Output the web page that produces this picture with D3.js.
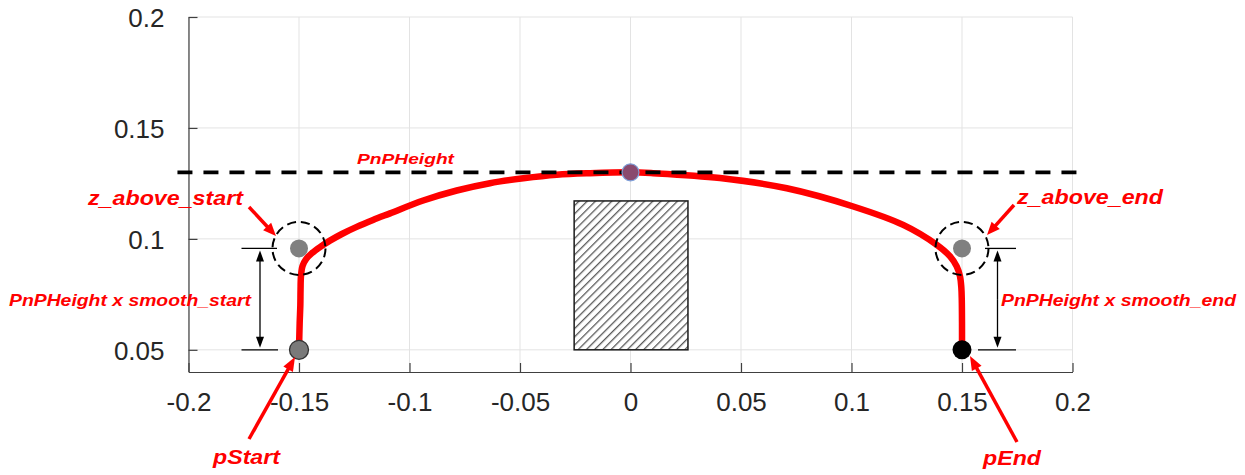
<!DOCTYPE html>
<html>
<head>
<meta charset="utf-8">
<script src="https://cdn.jsdelivr.net/npm/d3@7"></script>
<style>
  html, body { margin: 0; padding: 0; background: #fff; }
  svg { display: block; }
  text { font-family: "Liberation Sans", Arial, sans-serif; }
</style>
</head>
<body>
<svg id="chart" width="1245" height="475"></svg>
<script>
// ---------- data ----------
const xTicks = [-0.2, -0.15, -0.1, -0.05, 0, 0.05, 0.1, 0.15, 0.2];
const xTickLabels = ["-0.2", "-0.15", "-0.1", "-0.05", "0", "0.05", "0.1", "0.15", "0.2"];
const yTicks = [0.05, 0.1, 0.15, 0.2];
const yTickLabels = ["0.05", "0.1", "0.15", "0.2"];

// trajectory (red curve)
const pathX = [-0.15, -0.1497, -0.1494, -0.1493, -0.1491, -0.1484, -0.1468, -0.1441, -0.1405, -0.1360, -0.1306, -0.1239, -0.1165, -0.1088, -0.0938, -0.0786, -0.0636, -0.0485, -0.0334, -0.0183, 0, 0.0102, 0.0405, 0.0707, 0.1008, 0.1234, 0.1386, 0.1446, 0.1476, 0.1491, 0.1497, 0.1499, 0.15, 0.15];
const pathY = [0.05, 0.062, 0.0700, 0.0770, 0.0833, 0.0878, 0.0909, 0.0936, 0.0963, 0.0992, 0.1022, 0.1054, 0.1085, 0.1115, 0.1173, 0.1218, 0.1251, 0.1273, 0.1289, 0.1296, 0.1300, 0.1296, 0.1274, 0.1228, 0.1146, 0.1063, 0.0973, 0.0921, 0.0876, 0.0831, 0.0780, 0.0725, 0.062, 0.05];

// key points
const pStart = [-0.15, 0.05];
const pEnd = [0.15, 0.05];
const zAboveStart = [-0.15, 0.0957];
const zAboveEnd = [0.15, 0.0957];
const peakPoint = [0, 0.130];

// PnPHeight dashed line
const pnpHeight = 0.130;
const pnpLineX = [-0.205, 0.206];

// obstacle box
const obstacleX = [-0.0255, 0.026];
const obstacleY = [0.05, 0.1171];

// ---------- layout ----------
const svg = d3.select("#chart");
const x = d3.scaleLinear().domain([-0.2, 0.2]).range([188.5, 1072.5]);
const y = d3.scaleLinear().domain([0.04, 0.2]).range([372, 17]);

const defs = svg.append("defs");
const pat = defs.append("pattern")
  .attr("id", "hatch").attr("patternUnits", "userSpaceOnUse")
  .attr("width", 5.8).attr("height", 5.8)
  .attr("patternTransform", "rotate(45)");
pat.append("rect").attr("width", 5.8).attr("height", 5.8).attr("fill", "#fff");
pat.append("line").attr("x1", 0).attr("y1", 0).attr("x2", 0).attr("y2", 5.8)
  .attr("stroke", "#595959").attr("stroke-width", 2.6);

// grid
const grid = svg.append("g");
grid.selectAll("line.gx").data(xTicks).join("line")
  .attr("x1", d => x(d)).attr("x2", d => x(d))
  .attr("y1", y(0.04)).attr("y2", y(0.2))
  .attr("stroke", "#e3e3e3").attr("stroke-width", 1);
grid.selectAll("line.gy").data(yTicks).join("line")
  .attr("class", "gy")
  .attr("x1", x(-0.2)).attr("x2", x(0.2))
  .attr("y1", d => y(d)).attr("y2", d => y(d))
  .attr("stroke", "#e3e3e3").attr("stroke-width", 1);

// axes (MATLAB style: inward ticks, box off)
const xAxis = d3.axisBottom(x).tickValues(xTicks).tickFormat((d, i) => xTickLabels[i])
  .tickSizeInner(-9).tickSizeOuter(0).tickPadding(21);
const yAxis = d3.axisLeft(y).tickValues(yTicks).tickFormat((d, i) => yTickLabels[i])
  .tickSizeInner(-9).tickSizeOuter(0).tickPadding(24);

const gx = svg.append("g").attr("transform", `translate(0,${y(0.04)})`).call(xAxis);
const gy = svg.append("g").attr("transform", `translate(${x(-0.2)},0)`).call(yAxis);
[gx, gy].forEach(g => {
  g.select(".domain").attr("stroke", "#404040").attr("stroke-width", 1.2);
  g.selectAll(".tick line").attr("stroke", "#404040").attr("stroke-width", 1.2);
  g.selectAll(".tick text").attr("fill", "#262626")
    .style("font-family", "'Liberation Sans', Arial, sans-serif").style("font-size", "26px");
});
gy.selectAll(".tick text").attr("dy", "0.36em");

// obstacle
svg.append("rect")
  .attr("x", x(obstacleX[0])).attr("y", y(obstacleY[1]))
  .attr("width", x(obstacleX[1]) - x(obstacleX[0]))
  .attr("height", y(obstacleY[0]) - y(obstacleY[1]))
  .attr("fill", "url(#hatch)").attr("stroke", "#1a1a1a").attr("stroke-width", 1.5);

// trajectory
const pts = pathX.map((v, i) => [v, pathY[i]]);
svg.append("path").datum(pts)
  .attr("d", d3.line().x(d => x(d[0])).y(d => y(d[1])).curve(d3.curveCatmullRom.alpha(0.5)))
  .attr("fill", "none").attr("stroke", "#ff0000").attr("stroke-width", 6.5)
  .attr("stroke-linejoin", "round");

// PnPHeight dashed line
svg.append("line")
  .attr("x1", x(pnpLineX[0])).attr("x2", x(pnpLineX[1]))
  .attr("y1", y(pnpHeight)).attr("y2", y(pnpHeight))
  .attr("stroke", "#000").attr("stroke-width", 3.8).attr("stroke-dasharray", "15,11");

// points
svg.append("circle").attr("cx", x(zAboveStart[0])).attr("cy", y(zAboveStart[1])).attr("r", 9).attr("fill", "#808080");
svg.append("circle").attr("cx", x(zAboveEnd[0])).attr("cy", y(zAboveEnd[1])).attr("r", 9).attr("fill", "#808080");
svg.append("circle").attr("cx", x(pStart[0])).attr("cy", y(pStart[1])).attr("r", 9.5)
  .attr("fill", "#7a7a7a").attr("stroke", "#333").attr("stroke-width", 1.3);
svg.append("circle").attr("cx", x(pEnd[0])).attr("cy", y(pEnd[1])).attr("r", 9.5).attr("fill", "#000");
svg.append("circle").attr("cx", x(peakPoint[0])).attr("cy", y(peakPoint[1])).attr("r", 8.5)
  .attr("fill", "#8a4a6e").attr("stroke", "#7f9fd8").attr("stroke-width", 1.2);

// dashed circles around z_above points
[zAboveStart, zAboveEnd].forEach(p => {
  svg.append("circle").attr("cx", x(p[0])).attr("cy", y(p[1])).attr("r", 26.5)
    .attr("fill", "none").attr("stroke", "#000").attr("stroke-width", 2)
    .attr("stroke-dasharray", "9,5");
});

// ---------- annotations ----------
function arrow(x1, y1, x2, y2, color, width, headLen, headW) {
  const dx = x2 - x1, dy = y2 - y1, L = Math.hypot(dx, dy);
  const ux = dx / L, uy = dy / L;
  const bx = x2 - ux * headLen, by = y2 - uy * headLen;
  svg.append("line").attr("x1", x1).attr("y1", y1).attr("x2", bx + ux * 1).attr("y2", by + uy * 1)
    .attr("stroke", color).attr("stroke-width", width);
  const px = -uy * headW / 2, py = ux * headW / 2;
  svg.append("path")
    .attr("d", `M${x2},${y2}L${bx + px},${by + py}L${bx - px},${by - py}Z`)
    .attr("fill", color);
}

// dimension lines: PnPHeight x smooth_start / smooth_end
const dimLeftX = 260, dimRightX = 997.5;
const ext = [
  [241.5, 277, zAboveStart[1]], [241.5, 278, pStart[1]],
  [985, 1016, zAboveEnd[1]], [978, 1016, pEnd[1]]
];
ext.forEach(e => svg.append("line").attr("x1", e[0]).attr("x2", e[1])
  .attr("y1", y(e[2])).attr("y2", y(e[2])).attr("stroke", "#000").attr("stroke-width", 1.3));
[dimLeftX, dimRightX].forEach(dx => {
  const mid = (y(zAboveStart[1]) + y(pStart[1])) / 2;
  arrow(dx, mid, dx, y(zAboveStart[1]) + 2, "#000", 1.3, 11, 8);
  arrow(dx, mid, dx, y(pStart[1]) - 2, "#000", 1.3, 11, 8);
});

// red pointer arrows
arrow(249, 207, 276, 236, "#ff0000", 3.5, 13, 11);
arrow(1014, 205, 987, 235, "#ff0000", 3.5, 13, 11);
arrow(249, 439, 295, 357, "#ff0000", 3.5, 14, 11);
arrow(1017, 442, 970, 356, "#ff0000", 3.5, 14, 11);

// labels
const labels = [
  { t: "PnPHeight", x: 357, y: 164, s: 15.5, w: 97 },
  { t: "z_above_start", x: 88, y: 205, s: 20, w: 155 },
  { t: "z_above_end", x: 1017, y: 204, s: 20, w: 146 },
  { t: "PnPHeight x smooth_start", x: 9, y: 306, s: 16.5, w: 242 },
  { t: "PnPHeight x smooth_end", x: 1001, y: 306, s: 16.5, w: 235 },
  { t: "pStart", x: 213, y: 464, s: 20, w: 67 },
  { t: "pEnd", x: 983, y: 465, s: 20, w: 58 }
];
labels.forEach(l => {
  svg.append("text").attr("x", l.x).attr("y", l.y)
    .attr("fill", "#ff0000").attr("font-weight", "bold").attr("font-style", "italic")
    .attr("font-size", l.s + "px")
    .attr("textLength", l.w).attr("lengthAdjust", "spacingAndGlyphs")
    .text(l.t);
});
</script>
</body>
</html>
